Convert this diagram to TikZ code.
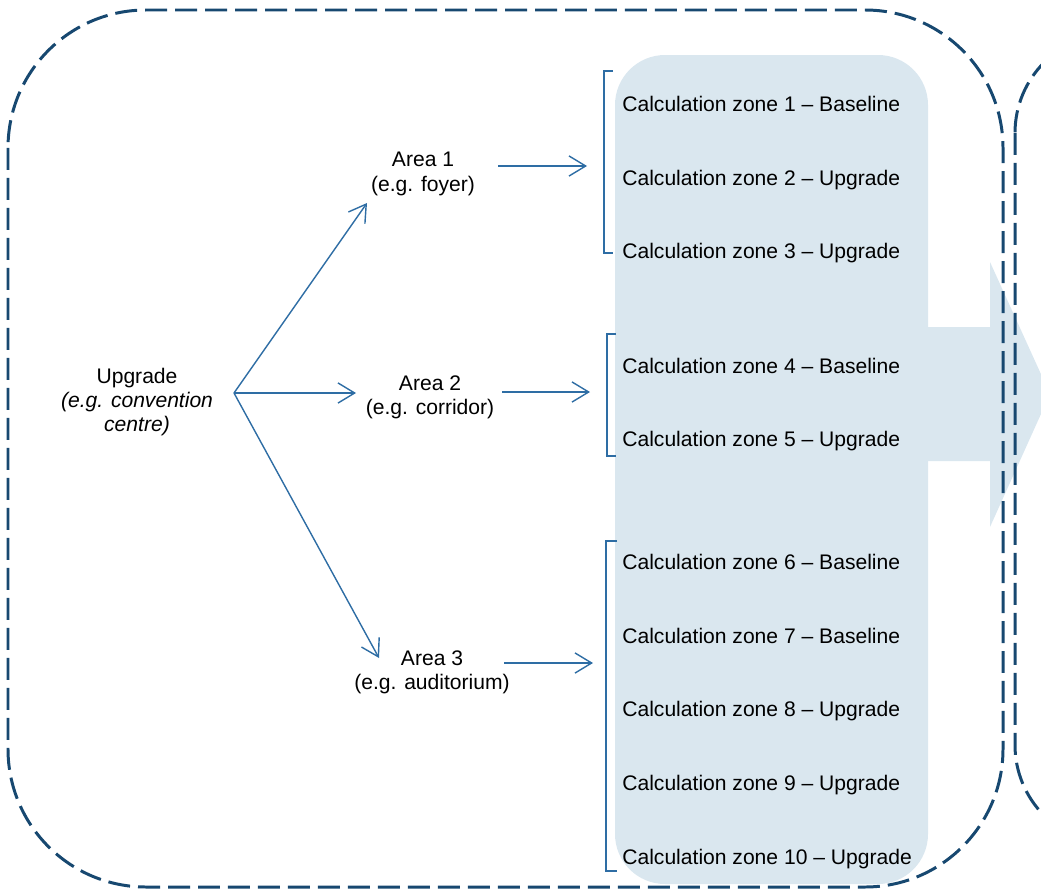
\documentclass[tikz,border=0pt]{standalone}
\usepackage{fontspec}
\setmainfont{Liberation Sans}
\usetikzlibrary{arrows.meta}
\definecolor{dashblue}{RGB}{23,72,112}
\definecolor{linkblue}{RGB}{46,109,164}
\definecolor{fillblue}{RGB}{218,231,239}
\begin{document}
\begin{tikzpicture}[x=0.02cm,y=-0.02cm,
  dashbox/.style={draw=dashblue,line width=1.7pt,dash pattern=on 0.44cm off 0.16cm},
  link/.style={draw=linkblue,line width=0.8pt,-{Straight Barb[length=9.5pt,width=11.5pt]}},
  bracketline/.style={draw=linkblue,line width=0.7pt},
  lbl/.style={align=center,inner sep=0pt,font=\fontsize{12}{13.8}\selectfont},
  zone/.style={anchor=base west,inner sep=0pt,font=\fontsize{12}{13.8}\selectfont}]
\useasboundingbox (0,0) rectangle (1041,889);
\begin{scope}
\clip (0,0) rectangle (1041,889);
% light blue panel and big arrow
\fill[fillblue,rounded corners=1cm] (615,55) rectangle (928,884);
\fill[fillblue] (920,327) -- (990,327) -- (990,262) -- (1050,394) -- (990,527) -- (990,461) -- (920,461) -- cycle;
% dashed boxes
\draw[dashbox,rounded corners=2.76cm] (8,10) rectangle (1003,887);
\draw[dashbox,rounded corners=2cm] (1015,33) rectangle (1500,845);
% brackets
\draw[bracketline] (613,71) -- (604,71) -- (604,253) -- (613,253);
\draw[bracketline] (616,334) -- (607,334) -- (607,456) -- (616,456);
\draw[bracketline] (617,541) -- (606,541) -- (606,871) -- (617,871);
% text
\node[lbl] (up) at (137,402) {Upgrade\\\textit{(e.g. convention}\\\textit{centre)}};
\node[lbl] (a1) at (423,174) {Area 1\\(e.g. foyer)};
\node[lbl] (a2) at (430,397) {Area 2\\(e.g. corridor)};
\node[lbl] (a3) at (432,672) {Area 3\\(e.g. auditorium)};
\node[zone] (z1) at (622,111) {Calculation zone 1 – Baseline};
\node[zone] (z2) at (622,185) {Calculation zone 2 – Upgrade};
\node[zone] (z3) at (622,258) {Calculation zone 3 – Upgrade};
\node[zone] (z4) at (622,373) {Calculation zone 4 – Baseline};
\node[zone] (z5) at (622,446) {Calculation zone 5 – Upgrade};
\node[zone] (z6) at (622,569) {Calculation zone 6 – Baseline};
\node[zone] (z7) at (622,643) {Calculation zone 7 – Baseline};
\node[zone] (z8) at (622,716) {Calculation zone 8 – Upgrade};
\node[zone] (z9) at (622,790) {Calculation zone 9 – Upgrade};
\node[zone] (z10) at (622,864) {Calculation zone 10 – Upgrade};
% connector ends
\coordinate (src) at (234,393);
\coordinate (t1) at (367,203);
\coordinate (t2) at (356,393);
\coordinate (t3) at (379,658);
\coordinate (h1s) at (498,166);
\coordinate (h1e) at (587,166);
\coordinate (h2s) at (502,392);
\coordinate (h2e) at (590,392);
\coordinate (h3s) at (504,663);
\coordinate (h3e) at (593,663);
\draw[link] (src) -- (t1);
\draw[link] (src) -- (t2);
\draw[link] (src) -- (t3);
\draw[link] (h1s) -- (h1e);
\draw[link] (h2s) -- (h2e);
\draw[link] (h3s) -- (h3e);
\end{scope}
\end{tikzpicture}
\end{document}
